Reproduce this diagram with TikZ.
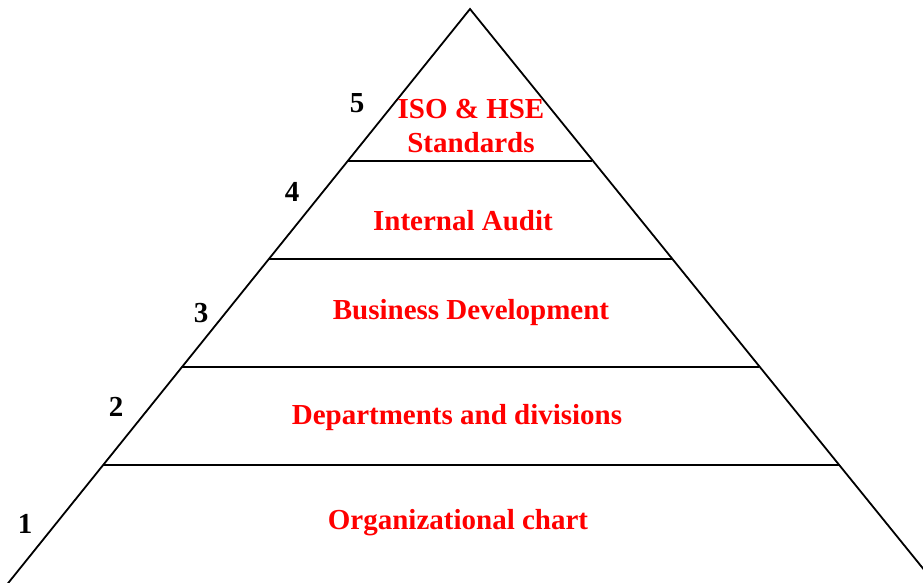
\documentclass[tikz,border=0pt]{standalone}
\usepackage{fontspec}
\setmainfont{Liberation Serif}
\begin{document}
\begin{tikzpicture}[x=1pt,y=-1pt,
  edge/.style={draw=black,line width=1.8pt},
  lbl/.style={font=\fontsize{29}{33}\selectfont\bfseries,text=red,inner sep=0pt,align=center},
  num/.style={font=\fontsize{29}{33}\selectfont\bfseries,text=black,inner sep=0pt}]
\useasboundingbox (0,0) rectangle (923,582);
\clip (0,0) rectangle (923,582);
\coordinate (A) at (470,9);
\coordinate (L) at (5,587);
\coordinate (R) at (938,587);
\coordinate (l5) at (348,161); \coordinate (r5) at (592,161);
\coordinate (l4) at (269,259); \coordinate (r4) at (672,259);
\coordinate (l3) at (182,367); \coordinate (r3) at (759,367);
\coordinate (l2) at (103,465); \coordinate (r2) at (839,465);
\draw[edge] (L) -- (A) -- (R);
\draw[edge] (l5) -- (r5);
\draw[edge] (l4) -- (r4);
\draw[edge] (l3) -- (r3);
\draw[edge] (l2) -- (r2);
\node[num] (n5) at (357,103) {5};
\node[num] (n4) at (292,192) {4};
\node[num] (n3) at (201,313) {3};
\node[num] (n2) at (116,407) {2};
\node[num] (n1) at (25,524) {1};
\node[lbl] (t5a) at (471,109) {ISO \& HSE};
\node[lbl] (t5b) at (471,143) {Standards};
\node[lbl] (t4) at (463,221) {Internal Audit};
\node[lbl] (t3) at (471,313) {Business Development};
\node[lbl] (t2) at (457,418) {Departments and divisions};
\node[lbl] (t1) at (458,523) {Organizational chart};
\end{tikzpicture}
\end{document}
